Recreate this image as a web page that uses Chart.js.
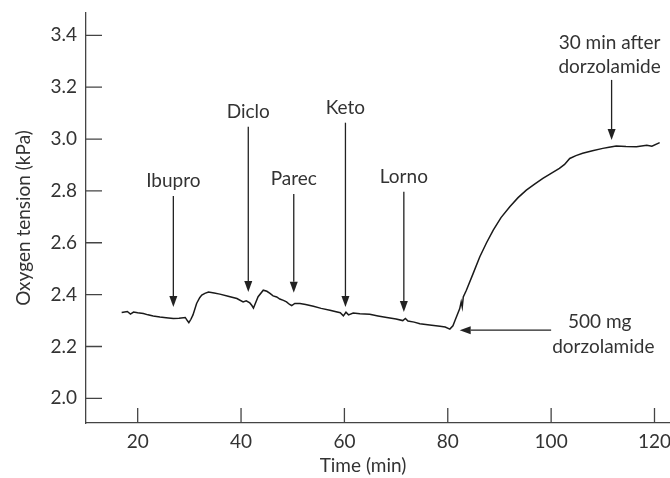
<!DOCTYPE html>
<html lang="en">
<head>
<meta charset="UTF-8">
<title>Oxygen tension</title>
<script src="https://cdn.jsdelivr.net/npm/chart.js@4"></script>
<style>
  html, body { margin: 0; padding: 0; background: #fff; }
  canvas { display: block; }
</style>
</head>
<body>
<canvas id="chart" width="670" height="478"></canvas>
<script>
// trace (min, kPa)
const times = [16.9, 18.0, 18.6, 19.2, 20.0, 21.1, 22.0, 23.0, 24.3, 25.5, 26.9, 28.0, 29.2, 29.6, 29.9, 30.3, 30.7, 31.4, 32.0, 32.4,
  33.0, 33.7, 34.8, 35.9, 37.5, 39.2, 40.4, 41.0, 41.7, 42.1, 42.4, 42.8, 43.3, 44.3, 45.0, 45.6, 46.2, 46.9, 47.5, 48.2,
  48.8, 49.4, 49.8, 50.4, 51.4, 52.5, 54.0, 55.5, 57.2, 58.2, 59.2, 59.8, 60.3, 60.8, 61.7, 63.0, 64.9, 66.5, 68.2, 70.0,
  71.3, 71.8, 72.3, 73.5, 74.6, 76.5, 78.5, 79.5, 80.4, 81.0, 81.4, 82.3, 82.6, 82.8, 83.0, 83.6, 84.9, 86.2, 87.5, 88.8,
  90.3, 92.0, 93.6, 95.2, 96.8, 98.4, 100.0, 101.6, 102.6, 103.6, 104.8, 106.1, 108.0, 110.0, 111.2, 112.6, 114.5, 116.5, 118.5, 119.5, 121.0];
const tension = [2.331, 2.335, 2.325, 2.333, 2.330, 2.327, 2.322, 2.318, 2.314, 2.311, 2.308, 2.309, 2.312, 2.300, 2.292, 2.305, 2.322, 2.366, 2.388, 2.398,
  2.405, 2.410, 2.406, 2.402, 2.394, 2.385, 2.372, 2.376, 2.368, 2.358, 2.348, 2.368, 2.392, 2.417, 2.413, 2.405, 2.395, 2.391, 2.383, 2.378,
  2.372, 2.362, 2.358, 2.366, 2.366, 2.362, 2.355, 2.347, 2.340, 2.335, 2.330, 2.318, 2.332, 2.322, 2.329, 2.326, 2.324, 2.318, 2.312, 2.306,
  2.300, 2.308, 2.298, 2.294, 2.288, 2.283, 2.278, 2.275, 2.267, 2.280, 2.300, 2.345, 2.372, 2.352, 2.391, 2.417, 2.481, 2.546, 2.600, 2.649,
  2.697, 2.739, 2.774, 2.803, 2.826, 2.848, 2.868, 2.887, 2.902, 2.925, 2.936, 2.945, 2.955, 2.964, 2.968, 2.973, 2.971, 2.970, 2.976, 2.972, 2.986];

const xTicks = [20, 40, 60, 80, 100, 120];
const yTicks = [2.0, 2.2, 2.4, 2.6, 2.8, 3.0, 3.2, 3.4];

// drug arrows: time, arrow top and tip in kPa
const drugs = ['Ibupro', 'Diclo', 'Parec', 'Keto', 'Lorno'];
const drugTimes = [26.9, 41.4, 50.2, 60.2, 71.5];
const arrowTops = [2.780, 3.047, 2.788, 3.063, 2.797];
const arrowTips = [2.352, 2.410, 2.407, 2.352, 2.333];

const font = '19px Lato';
const ink = '#333';

function arrow(ctx, x1, y1, x2, y2) {
  const a = Math.atan2(y2 - y1, x2 - x1);
  const len = 11, hw = 4;
  ctx.beginPath();
  ctx.moveTo(x1, y1);
  ctx.lineTo(x2 - Math.cos(a) * len, y2 - Math.sin(a) * len);
  ctx.stroke();
  ctx.beginPath();
  ctx.moveTo(x2, y2);
  ctx.lineTo(x2 - Math.cos(a) * len - Math.sin(a) * hw, y2 - Math.sin(a) * len + Math.cos(a) * hw);
  ctx.lineTo(x2 - Math.cos(a) * len + Math.sin(a) * hw, y2 - Math.sin(a) * len - Math.cos(a) * hw);
  ctx.closePath();
  ctx.fill();
}

const decorations = {
  id: 'decorations',
  afterDraw(chart) {
    const { ctx, scales: { x, y }, chartArea } = chart;
    ctx.save();
    ctx.strokeStyle = '#444';
    ctx.fillStyle = ink;
    ctx.lineWidth = 1.3;

    // inward tick marks
    ctx.beginPath();
    xTicks.forEach(v => {
      const px = x.getPixelForValue(v);
      ctx.moveTo(px, chartArea.bottom);
      ctx.lineTo(px, chartArea.bottom - 15);
    });
    yTicks.forEach(v => {
      const py = y.getPixelForValue(v);
      ctx.moveTo(chartArea.left, py);
      ctx.lineTo(chartArea.left + 16, py);
    });
    ctx.stroke();

    ctx.strokeStyle = '#222';
    ctx.fillStyle = '#222';
    ctx.font = font;
    ctx.textAlign = 'center';
    ctx.textBaseline = 'middle';

    drugs.forEach((name, i) => {
      const px = x.getPixelForValue(drugTimes[i]);
      const top = y.getPixelForValue(arrowTops[i]);
      arrow(ctx, px, top, px, y.getPixelForValue(arrowTips[i]));
      ctx.fillStyle = ink;
      ctx.fillText(name, px, top - 15);
      ctx.fillStyle = '#222';
    });

    // 30 min after dorzolamide
    let px = x.getPixelForValue(111.7);
    arrow(ctx, px, y.getPixelForValue(3.228), px, y.getPixelForValue(2.996));
    ctx.fillStyle = ink;
    ctx.fillText('30 min after', px - 2, y.getPixelForValue(3.371));
    ctx.fillText('dorzolamide', px - 2, y.getPixelForValue(3.279));

    // 500 mg dorzolamide
    ctx.fillStyle = '#222';
    const ay = y.getPixelForValue(2.263);
    arrow(ctx, x.getPixelForValue(100.0), ay, x.getPixelForValue(82.3), ay);
    ctx.fillStyle = ink;
    ctx.fillText('500 mg', x.getPixelForValue(109.4), y.getPixelForValue(2.295));
    ctx.fillText('dorzolamide', x.getPixelForValue(110.1), y.getPixelForValue(2.200));

    // axis titles
    ctx.fillText('Time (min)', 363, 466);
    ctx.translate(24, 218);
    ctx.rotate(-Math.PI / 2);
    ctx.fillText('Oxygen tension (kPa)', 0, 0);
    ctx.restore();
  }
};

new Chart(document.getElementById('chart'), {
  type: 'line',
  data: {
    datasets: [{
      data: times.map((t, i) => ({ x: t, y: tension[i] })),
      borderColor: '#1a1a1a',
      borderWidth: 1.5,
      pointRadius: 0,
      tension: 0,
      fill: false
    }]
  },
  options: {
    responsive: false,
    animation: false,
    layout: { padding: { top: 13, right: 0, left: 0, bottom: 0 } },
    plugins: { legend: { display: false }, tooltip: { enabled: false } },
    scales: {
      x: {
        type: 'linear',
        min: 10,
        max: 123,
        afterBuildTicks: s => { s.ticks = xTicks.map(v => ({ value: v })); },
        afterFit: s => { s.height = 55; s.paddingLeft = 0; s.paddingRight = 0; },
        grid: { drawOnChartArea: false, drawTicks: false },
        border: { display: true, color: '#444', width: 1.3 },
        ticks: { padding: 7, color: ink, font: { family: 'Lato', size: 19 } }
      },
      y: {
        type: 'linear',
        min: 1.905,
        max: 3.486,
        afterBuildTicks: s => { s.ticks = yTicks.map(v => ({ value: v })); },
        afterFit: s => { s.width = 86; s.paddingTop = 0; s.paddingBottom = 0; },
        grid: { drawOnChartArea: false, drawTicks: false },
        border: { display: true, color: '#444', width: 1.3 },
        ticks: {
          padding: 9,
          color: ink,
          font: { family: 'Lato', size: 19 },
          callback: v => v.toFixed(1)
        }
      }
    }
  },
  plugins: [decorations]
});
</script>
</body>
</html>
